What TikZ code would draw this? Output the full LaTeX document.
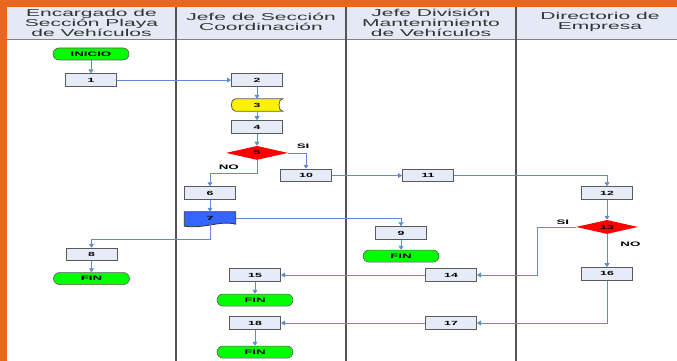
\documentclass[tikz,border=0pt]{standalone}
\usepackage{fontspec}
\setmainfont{Liberation Sans}[FakeStretch=2.05]
\newfontfamily\headfont{Liberation Sans}[FakeStretch=2.1]
\usepackage{tikz}
\usetikzlibrary{arrows.meta,shapes.geometric,positioning,backgrounds}

\definecolor{frameorange}{RGB}{233,102,27}
\definecolor{headfill}{RGB}{228,234,245}
\definecolor{boxfill}{RGB}{230,236,247}
\definecolor{boxline}{RGB}{90,90,90}
\definecolor{laneline}{RGB}{85,85,85}
\definecolor{flowblue}{RGB}{95,140,210}
\definecolor{termgreen}{RGB}{0,255,0}
\definecolor{docblue}{RGB}{51,102,255}

\begin{document}
\begin{tikzpicture}[
    x=1pt, y=-1pt,
    box/.style={rectangle, draw=boxline, line width=1pt, fill=boxfill, minimum width=51pt, minimum height=12.5pt, inner sep=0pt, font=\bfseries\fontsize{6}{6}\selectfont},
    shaped/.style={rectangle, minimum width=51pt, minimum height=12pt, inner sep=0pt, font=\bfseries\fontsize{6}{6}\selectfont},
    term/.style={rectangle, rounded corners=6pt, draw=boxline, line width=0.6pt, fill=termgreen, minimum width=76pt, minimum height=12pt, inner sep=0pt, font=\bfseries\fontsize{6.5}{6.5}\selectfont},
    decision/.style={diamond, aspect=4.4, fill=red, minimum width=62pt, minimum height=14pt, inner sep=0pt, font=\bfseries\fontsize{6}{6}\selectfont},
    lanehead/.style={align=center, text=black!80, font=\headfont\fontsize{10}{10}\selectfont},
    yesno/.style={inner sep=1pt, font=\bfseries\fontsize{6.5}{6.5}\selectfont},
    flow/.style={draw=flowblue, line width=0.8pt, -{Triangle[length=4pt,width=5pt]}}
]
\useasboundingbox (0,0) rectangle (677,361);

% Frame and lanes
\fill[frameorange] (0,0) rectangle (7,361);
\fill[frameorange] (0,0) rectangle (677,7);
\fill[headfill] (7,7) rectangle (677,39);
\draw[gray, line width=1pt] (7,39.5) -- (677,39.5);
\foreach \lx in {176,346,516}
    \draw[laneline, line width=1.5pt] (\lx,7) -- (\lx,361);

% Lane headers
\node[lanehead] (hd1) at (91.5,23) {Encargado de\\Sección Playa\\de Vehículos};
\node[lanehead] (hd2) at (261,22) {Jefe de Sección\\Coordinación};
\node[lanehead] (hd3) at (431,22.5) {Jefe División\\Mantenimiento\\de Vehículos};
\node[lanehead] (hd4) at (600,22) {Directorio de\\Empresa};

% Encargado de Seccion
\node[term] (inicio) at (91,54) {INICIO};
\node[box, below=13pt of inicio] (n1) {1};
\node[box] (n8) at (91.5,254.5) {8};
\node[term, below=11pt of n8] (fin_8) {FIN};

% Jefe de Seccion
\node[box, right=114pt of n1] (n2) {2};
\node[shaped, below=12pt of n2] (n3) {3};
\node[box, below=9pt of n3] (n4) {4};
\node[decision, below=12pt of n4] (d5) {5};
\node[box] (n10) at (306,175.5) {10};
\node[box] (n6) at (210,193) {6};
\node[shaped, below=12pt of n6] (n7) {7};

% Jefe Division
\node[box, right=70pt of n10] (n11) {11};
\node[box] (n9) at (401,233) {9};
\node[term, below=10pt of n9] (fin_9) {FIN};

% Directorio
\node[box] (n12) at (607,193) {12};
\node[decision, below=20pt of n12] (d13) {13};
\node[box, below=33pt of d13] (n16) {16};

% Returns
\node[box] (n14) at (451,275) {14};
\node[box, left=144pt of n14] (n15) {15};
\node[term, below=12pt of n15] (fin_15) {FIN};
\node[box] (n17) at (451,323) {17};
\node[box, left=144pt of n17] (n18) {18};
\node[term, below=16pt of n18] (fin_18) {FIN};

% Outlines of the stored data and document steps
\begin{scope}[on background layer]
\fill[white] (7,39) rectangle (677,361);
\draw[fill=yellow, draw=boxline, line width=0.8pt] ([xshift=4pt]n3.north west) -- (n3.north east)
    .. controls ([xshift=-5pt]n3.north east) and ([xshift=-5pt]n3.south east) .. (n3.south east)
    -- ([xshift=4pt]n3.south west)
    .. controls ([xshift=-1.3pt]n3.south west) and ([xshift=-1.3pt]n3.north west) .. cycle;
\draw[fill=docblue, draw=black!80, line width=0.8pt] (n7.north west) -- (n7.north east) -- (n7.south east)
    .. controls ([xshift=-16pt,yshift=4pt]n7.south east) and ([xshift=20pt,yshift=-5pt]n7.south west) .. ([yshift=-2pt]n7.south west)
    -- cycle;
\end{scope}

% Connectors
\draw[flow] (inicio) -- (n1);
\draw[flow] (n1) -- (n2);
\draw[flow] (n2) -- (n3);
\draw[flow] (n3) -- (n4);
\draw[flow] (n4) -- (d5);
\draw[flow] (d5.east) -| node[yesno, pos=0.42, above=3pt] (si_5) {SI} (n10.north);
\draw[flow] (d5.south) -- ++(0,13) -| node[yesno, pos=0.3, above=2pt] (no_5) {NO} (n6.north);
\draw[flow] (n6) -- (n7);
\draw[flow] (n7.east) -| (n9.north);
\draw[flow] (n7.south) -- ++(0,15) -| (n8.north);
\draw[flow] (n8) -- (fin_8);
\draw[flow] (n9) -- (fin_9);
\draw[flow] (n10) -- (n11);
\draw[flow] (n11.east) -| (n12.north);
\draw[flow] (n12) -- (d13);
\draw[flow] (d13.west) -- node[yesno, pos=0.34, above=1pt] (si_13) {SI} ++(-38,0) |- (n14.east);
\draw[flow] (d13) -- node[yesno, pos=0.3, right=12pt] (no_13) {NO} (n16);
\draw[flow] (n14) -- (n15);
\draw[flow] (n15) -- (fin_15);
\draw[flow] (n16.south) |- (n17.east);
\draw[flow] (n17) -- (n18);
\draw[flow] (n18) -- (fin_18);

\end{tikzpicture}
\end{document}
